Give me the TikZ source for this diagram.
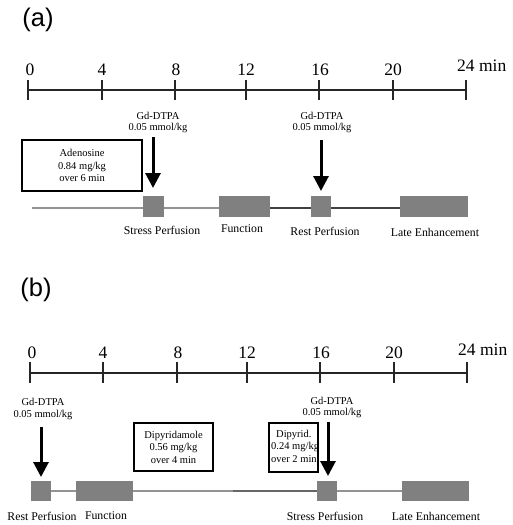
\documentclass[tikz,border=0pt]{standalone}
\usepackage{fontspec}
\setmainfont{Liberation Serif}
\newfontfamily\lblsans{Liberation Sans}
\usetikzlibrary{arrows.meta}
\begin{document}
\begin{tikzpicture}[x=1pt,y=-1pt,
  axisline/.style={line width=1.3pt, black!85},
  tickmark/.style={line width=1.1pt, black!85},
  ticklbl/.style={font=\fontsize{17.5}{17.5}\selectfont, inner sep=0pt, anchor=base},
  panellbl/.style={font=\lblsans\fontsize{25.5}{25.5}\selectfont, inner sep=0pt},
  pbox/.style={fill=gray, draw=none, inner sep=0pt, minimum height=21pt},
  dose/.style={font=\fontsize{10.5}{11.5}\selectfont, align=center, inner sep=0pt},
  drug/.style={draw, line width=1.3pt, align=center, font=\fontsize{10.5}{12.5}\selectfont, inner sep=0pt},
  arr/.style={line width=3pt, -{Triangle[width=15pt,length=15pt]}},
  lbl/.style={font=\fontsize{11.8}{12}\selectfont, inner sep=0pt},
  lightline/.style={line width=1.2pt, gray!85},
  darkline/.style={line width=1.3pt, black!75}
]
\useasboundingbox (0,0) rectangle (512,525);

% ---------------- Panel (a) ----------------
\node[panellbl] (pa) at (38,20) {(a)};
\foreach \x/\t in {28/0,102/4,175/8,246/12,319/16,393/20,466/24}{
  \coordinate (a\t) at (\x,90);
  \draw[tickmark] (\x,80) -- (\x,100);
}
\foreach \x/\t in {30/0,102/4,176/8,246/12,320/16,393/20}{
  \node[ticklbl] (tla\t) at (\x,75) {\t};
}
\node[ticklbl, anchor=base west] (tla24) at (457,71) {24 min};
\draw[axisline] (a0) -- (a24);

\node[dose] (gda1) at (158,122.5) {Gd-DTPA\\0.05 mmol/kg};
\node[dose] (gda2) at (322,122.5) {Gd-DTPA\\0.05 mmol/kg};

\node[drug, minimum width=120pt, minimum height=51pt] (aden) at (82,165.5) {Adenosine\\0.84 mg/kg\\over 6 min};

\coordinate (la0) at (32,208);
\node[pbox, minimum width=21pt] (sa) at (153.5,206.5) {};
\node[pbox, minimum width=51pt] (fa) at (244.5,206.5) {};
\node[pbox, minimum width=20pt] (ra) at (321,206.5) {};
\node[pbox, minimum width=68pt] (lea) at (434,206.5) {};
\draw[lightline] (la0) -- (sa.west |- la0);
\draw[lightline] (sa.east |- la0) -- (fa.west |- la0);
\draw[darkline] (fa.east |- la0) -- (ra.west |- la0);
\draw[darkline] (ra.east |- la0) -- (lea.west |- la0);

\coordinate (arA1) at (153,137);
\coordinate (arA2) at (321,140);
\draw[arr] (arA1) -- (153,188);
\draw[arr] (arA2) -- (321,191);

\node[lbl] (lsa) at (162,230) {Stress Perfusion};
\node[lbl] (lfa) at (242,229) {Function};
\node[lbl] (lra) at (325,231) {Rest Perfusion};
\node[lbl] (llea) at (435,232) {Late Enhancement};

% ---------------- Panel (b) ----------------
\node[panellbl] (pb) at (36,290) {(b)};
\foreach \x/\t in {30/0,103/4,177/8,247/12,320/16,394/20,467/24}{
  \coordinate (b\t) at (\x,373);
  \draw[tickmark] (\x,362) -- (\x,383);
}
\foreach \x/\t in {32/0,103/4,178/8,247/12,321/16,394/20}{
  \node[ticklbl] (tlb\t) at (\x,358) {\t};
}
\node[ticklbl, anchor=base west] (tlb24) at (458,355) {24 min};
\draw[axisline] (b0) -- (b24);

\node[dose] (gdb1) at (43,409) {Gd-DTPA\\0.05 mmol/kg};
\node[dose] (gdb2) at (332,407.5) {Gd-DTPA\\0.05 mmol/kg};

\node[drug, minimum width=79pt, minimum height=48pt] (dip1) at (173.5,447) {Dipyridamole\\0.56 mg/kg\\over 4 min};
\node[draw, line width=1.3pt, minimum width=49pt, minimum height=49pt, inner sep=0pt] (dip2) at (293.5,447.5) {};
\node[font=\fontsize{10.5}{12.5}\selectfont, align=left, inner sep=0pt, anchor=north west] (dip2t) at (271,430) {\hspace{5pt}Dipyrid.\\0.24 mg/kg\\over 2 min};

\node[pbox, minimum width=20pt, minimum height=20pt] (rb) at (41,491) {};
\node[pbox, minimum width=57pt, minimum height=20pt] (fb) at (104.5,491) {};
\node[pbox, minimum width=20pt, minimum height=20pt] (sb) at (327,491) {};
\node[pbox, minimum width=67pt, minimum height=20pt] (leb) at (435.5,491) {};
\coordinate (mb) at (233,491);
\draw[lightline] (rb.east) -- (fb.west);
\draw[lightline] (fb.east) -- (mb);
\draw[darkline, black!60] (mb) -- (sb.west);
\draw[lightline] (sb.east) -- (leb.west);

\coordinate (arB1) at (41,427);
\coordinate (arB2) at (328,422);
\draw[arr] (arB1) -- (41,477);
\draw[arr] (arB2) -- (328,476);

\node[lbl] (lrb) at (42,516) {Rest Perfusion};
\node[lbl] (lfb) at (106,516) {Function};
\node[lbl] (lsb) at (325,516) {Stress Perfusion};
\node[lbl] (lleb) at (436,516) {Late Enhancement};
\end{tikzpicture}
\end{document}
